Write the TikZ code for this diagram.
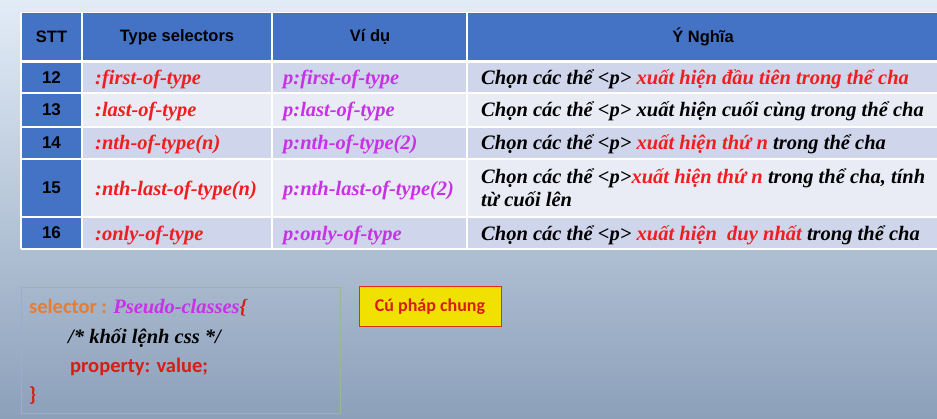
\documentclass[tikz,border=0pt]{standalone}
\usepackage{fontspec}
\setmainfont{Liberation Serif}
\newfontfamily\headfont{Liberation Sans}
\newfontfamily\codefont{Carlito}
\usetikzlibrary{positioning}

\definecolor{hdblue}{RGB}{68,114,196}
\definecolor{rowdark}{RGB}{207,213,234}
\definecolor{rowlight}{RGB}{233,235,245}
\definecolor{selred}{RGB}{240,30,30}
\definecolor{expurple}{RGB}{200,50,230}
\definecolor{codeorange}{RGB}{230,125,50}
\definecolor{codered}{RGB}{215,30,20}
\definecolor{boxyellow}{RGB}{240,225,0}
\definecolor{boxgreen}{RGB}{150,185,150}
\definecolor{bgtop}{RGB}{226,236,247}
\definecolor{bgbottom}{RGB}{140,160,186}

\begin{document}
\begin{tikzpicture}[x=1pt,y=-1pt,
  head/.style={inner sep=0pt,font=\headfont\bfseries\fontsize{16.5}{18}\selectfont},
  num/.style={inner sep=0pt,font=\headfont\bfseries\fontsize{17}{18}\selectfont},
  cell/.style={anchor=base west,inner sep=0pt,font=\bfseries\itshape\fontsize{20.5}{22}\selectfont},
  sel/.style={cell,text=selred},
  ex/.style={cell,text=expurple},
  code/.style={anchor=base west,inner sep=0pt,font=\codefont\bfseries\fontsize{20.5}{22}\selectfont}]
\useasboundingbox (0,0) rectangle (937,419);
\shade[top color=bgtop,bottom color=bgbottom] (0,0) rectangle (937,419);

% header
\fill[hdblue] (21,13) rectangle (937,60);
\fill[white] (21,60) rectangle (937,63);
\node[head] (hSTT) at (51.5,37) {STT};
\node[head] (hType) at (177,37) {Type selectors};
\node[head] (hEx) at (370,37) {Ví dụ};
\node[head] (hMean) at (703,37) {Ý Nghĩa};

% rows
\foreach \n/\ya/\yb/\col in {12/63/93/rowdark,13/93/127/rowlight,14/127/159/rowdark,15/159/217/rowlight,16/217/249/rowdark}{
  \fill[\col] (82,\ya) rectangle (937,\yb);
  \fill[hdblue] (21,\ya) rectangle (82,\yb);
  \node[num] (n\n) at (51.5,{(\ya+\yb)/2}) {\n};
}
\foreach \y in {93,127,159,217,249}
  \draw[white,line width=1.5pt] (21,\y) -- (937,\y);
\foreach \x in {21,82,272,467}
  \draw[white,line width=1.5pt] (\x,13) -- (\x,249);
\draw[white,line width=1pt] (21,13) -- (937,13);

\node[sel] (s12) at (95,85) {:first-of-type};
\node[sel] (s13) at (95,117) {:last-of-type};
\node[sel] (s14) at (95,150) {:nth-of-type(n)};
\node[sel] (s15) at (95,196) {:nth-last-of-type(n)};
\node[sel] (s16) at (95,241) {:only-of-type};

\node[ex] (e12) at (283,85) {p:first-of-type};
\node[ex] (e13) at (283,117) {p:last-of-type};
\node[ex] (e14) at (283,150) {p:nth-of-type(2)};
\node[ex] (e15) at (283,196) {p:nth-last-of-type(2)};
\node[ex] (e16) at (283,241) {p:only-of-type};

\node[cell] (m12) at (481,85) {Chọn các thể <p> \textcolor{selred}{xuất hiện đầu tiên trong thể cha}};
\node[cell] (m13) at (481,117) {Chọn các thể <p> xuất hiện cuối cùng trong thể cha};
\node[cell] (m14) at (481,150) {Chọn các thể <p> \textcolor{selred}{xuất hiện thứ n} trong thể cha};
\node[cell] (m15) at (481,184) {Chọn các thể <p>\textcolor{selred}{xuất hiện thứ n} trong thể cha, tính};
\node[cell] (m15b) at (481,207) {từ cuối lên};
\node[cell] (m16) at (481,241) {Chọn các thể <p> \textcolor{selred}{xuất hiện\ \ duy nhất} trong thể cha};

% syntax block
\draw[boxgreen,line width=0.8pt] (21,287) rectangle (340,413);
\node[code,text=codeorange] (c1) at (29,314) {selector : \textcolor{expurple}{\rmfamily\itshape Pseudo-classes}\textcolor{codered}{\rmfamily\itshape\{}};
\node[cell] (c2) at (68,344) {/* khối lệnh css */};
\node[code,text=codered] (c3) at (70,373) {property: value;};
\node[code,text=codered] (c4) at (29,402) {\}};

\node[draw=codered!80!orange,line width=1pt,fill=boxyellow,minimum width=142pt,minimum height=40pt,
  text=codered,font=\codefont\bfseries\fontsize{18}{20}\selectfont] (syntax) at (430,307) {Cú pháp chung};
\end{tikzpicture}
\end{document}
